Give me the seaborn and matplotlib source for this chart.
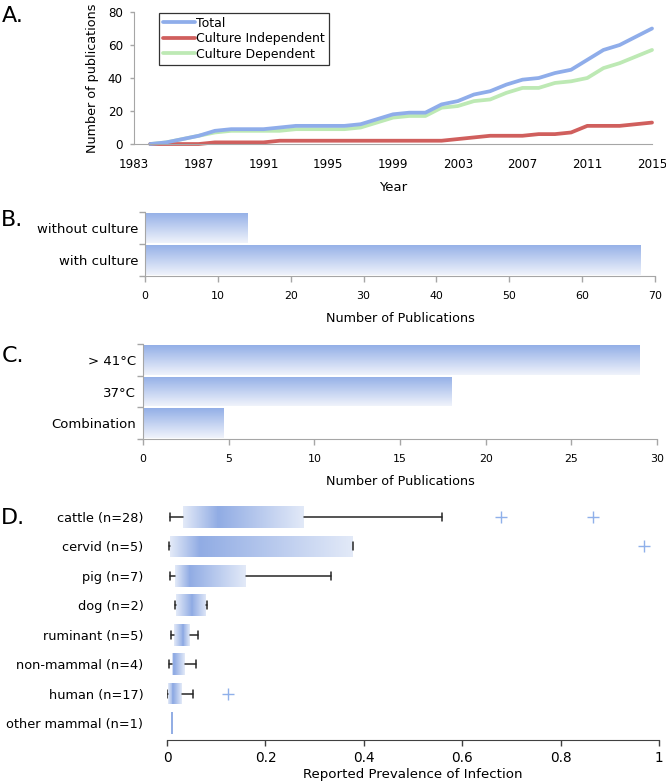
import matplotlib
matplotlib.use('Agg')
import matplotlib.pyplot as plt
from matplotlib.colors import LinearSegmentedColormap
from matplotlib.lines import Line2D
from matplotlib.ticker import FuncFormatter
import numpy as np
import pandas as pd
import seaborn as sns

# A. cumulative number of publications per year
years = list(range(1984, 2016))
total = [0, 1, 3, 5, 8, 9, 9, 9, 10, 11, 11, 11, 11, 12, 15, 18,
         19, 19, 24, 26, 30, 32, 36, 39, 40, 43, 45, 51, 57, 60, 65, 70]
independent = [0, 0, 0, 0, 1, 1, 1, 1, 2, 2, 2, 2, 2, 2, 2, 2,
               2, 2, 2, 3, 4, 5, 5, 5, 6, 6, 7, 11, 11, 11, 12, 13]
dependent = [0, 1, 3, 5, 7, 8, 8, 8, 8, 9, 9, 9, 9, 10, 13, 16,
             17, 17, 22, 23, 26, 27, 31, 34, 34, 37, 38, 40, 46, 49, 53, 57]

# B. culture
culture_labels = ['without culture', 'with culture']
culture_counts = [14, 68]

# C. incubation temperature
temp_labels = ['> 41°C', '37°C', 'Combination']
temp_counts = [29, 18, 4.7]

# D. reported prevalence by host
hosts = ['cattle (n=28)', 'cervid (n=5)', 'pig (n=7)', 'dog (n=2)',
         'ruminant (n=5)', 'non-mammal (n=4)', 'human (n=17)', 'other mammal (n=1)']
prev_min = [0.007, 0.004, 0.006, 0.016, 0.008, 0.004, 0.000, 0.011]
prev_q1 = [0.032, 0.006, 0.016, 0.018, 0.014, 0.010, 0.002, 0.011]
prev_med = [0.103, 0.066, 0.046, 0.050, 0.032, 0.015, 0.013, 0.011]
prev_q3 = [0.278, 0.378, 0.160, 0.080, 0.046, 0.036, 0.030, 0.011]
prev_max = [0.559, 0.378, 0.334, 0.081, 0.063, 0.058, 0.053, 0.011]
prev_out = [[0.678, 0.866], [0.968], [], [], [], [], [0.123], []]

sns.set_style('ticks')
plt.rcParams['font.family'] = ['DejaVu Sans']
plt.rcParams['text.color'] = 'black'
plt.rcParams['axes.labelcolor'] = 'black'
plt.rcParams['xtick.labelcolor'] = 'black'
plt.rcParams['ytick.labelcolor'] = 'black'

gray = '#a6a6a6'
bar_cmap = LinearSegmentedColormap.from_list('bar', ['#93afe7', '#f0f3fb'])
box_cmap = LinearSegmentedColormap.from_list('box', ['#e3eaf8', '#91ace4'])


def gradient_bars(ax, n):
    # replace flat bar colour by a top-to-bottom gradient
    vals = np.linspace(0, 1, 128)[:, None]
    for p in ax.patches:
        x0, y0, w, h = p.get_x(), p.get_y(), p.get_width(), p.get_height()
        p.set_facecolor('none')
        p.set_edgecolor('none')
        im = ax.imshow(vals, cmap=bar_cmap, vmin=0, vmax=1, aspect='auto',
                       extent=(x0, x0 + w, y0 + h, y0), origin='upper',
                       interpolation='bilinear', zorder=2)
        im.set_clip_path(p)
    ax.set_ylim(n - 0.5, -0.5)


def style_bar_axis(ax, n, xmax, step):
    sns.despine(ax=ax)
    for s in ['left', 'bottom']:
        ax.spines[s].set_color(gray)
    ax.set_xlim(0, xmax)
    ax.set_xticks(np.arange(0, xmax + 1, step))
    ax.set_yticks(np.arange(-0.5, n, 1), minor=True)
    ax.tick_params(axis='y', which='major', length=0, labelsize=9.5, pad=5)
    ax.tick_params(axis='y', which='minor', length=4, color=gray, width=1)
    ax.tick_params(axis='x', length=4, color=gray, width=1, labelsize=7.9, pad=7)
    ax.set_ylabel('')


fig = plt.figure(figsize=(6.66, 7.84), dpi=100)
axA = fig.add_axes([0.2012, 0.8163, 0.7778, 0.1684])
axB = fig.add_axes([0.2177, 0.648, 0.7658, 0.0816])
axC = fig.add_axes([0.2147, 0.44, 0.7718, 0.1212])
axD = fig.add_axes([0.2508, 0.0561, 0.7392, 0.3032])

# ---- A
n = len(years)
df_a = pd.DataFrame({
    'Year': years * 3,
    'count': total + independent + dependent,
    'series': ['Total'] * n + ['Culture Independent'] * n + ['Culture Dependent'] * n,
})
line_colors = {'Total': '#8fadea', 'Culture Independent': '#d05f5d',
               'Culture Dependent': '#bde9b4'}
sns.lineplot(data=df_a, x='Year', y='count', hue='series',
             hue_order=['Culture Dependent', 'Culture Independent', 'Total'],
             palette=line_colors, linewidth=2.7, ax=axA, legend=False,
             solid_joinstyle='round', solid_capstyle='round')
for line in axA.lines:
    line.set_clip_on(False)
sns.despine(ax=axA)
for s in ['left', 'bottom']:
    axA.spines[s].set_color(gray)
axA.set_xlim(1983, 2015)
axA.set_ylim(0, 80)
axA.set_xticks(range(1983, 2016, 4))
axA.set_yticks(range(0, 81, 20))
axA.tick_params(axis='x', length=0, pad=10, labelsize=8.6)
axA.tick_params(axis='y', length=3, color=gray, width=1, pad=5, labelsize=8.6)
axA.set_xlabel('Year', fontsize=9.5, labelpad=7)
axA.set_ylabel('Number of publications', fontsize=9.2, labelpad=6)
handles = [Line2D([], [], color=line_colors[k], lw=2.7)
           for k in ['Total', 'Culture Independent', 'Culture Dependent']]
leg = axA.legend(handles, ['Total', 'Culture Independent', 'Culture Dependent'],
                 loc='upper left', bbox_to_anchor=(0.048, 0.992), borderaxespad=0,
                 fontsize=9, frameon=True, fancybox=False, edgecolor='black',
                 handlelength=2.6, handletextpad=0.1, labelspacing=0.2, borderpad=0.3)
leg.get_frame().set_linewidth(0.9)

# ---- B
sns.barplot(x=culture_counts, y=culture_labels, orient='h', width=0.94,
            color='#b0c4ee', ax=axB)
gradient_bars(axB, len(culture_labels))
style_bar_axis(axB, len(culture_labels), 70, 10)
axB.set_xlabel('Number of Publications', fontsize=9.2, labelpad=8)

# ---- C
sns.barplot(x=temp_counts, y=temp_labels, orient='h', width=0.94,
            color='#b0c4ee', ax=axC)
gradient_bars(axC, len(temp_labels))
style_bar_axis(axC, len(temp_labels), 30, 5)
axC.set_xlabel('Number of Publications', fontsize=9.2, labelpad=8)

# ---- D
stats = []
for h, mn, a, m, b, mx, out in zip(hosts, prev_min, prev_q1, prev_med, prev_q3,
                                  prev_max, prev_out):
    stats.append(dict(label=h, whislo=mn, q1=a, med=m, q3=b, whishi=mx, fliers=out))
caps = [0.27 if mx > mn else 0.0 for mn, mx in zip(prev_min, prev_max)]
bw = 0.74
res = axD.bxp(stats, positions=range(len(hosts)), widths=bw, capwidths=caps,
              orientation='horizontal', patch_artist=True, showfliers=True,
              boxprops=dict(facecolor='none', edgecolor='none', linewidth=0),
              medianprops=dict(color='#91ace4', linewidth=1.4),
              whiskerprops=dict(color='#262626', linewidth=1.1),
              capprops=dict(color='#262626', linewidth=1.1),
              flierprops=dict(marker='+', markeredgecolor='#8fb0ea',
                              markersize=8, markeredgewidth=1.0, linestyle='none'))
for i, patch in enumerate(res['boxes']):
    a, m, b = prev_q1[i], prev_med[i], prev_q3[i]
    if b <= a:
        continue
    xs = np.linspace(a, b, 256)
    t = np.where(xs <= m, (xs - a) / max(m - a, 1e-9), (b - xs) / max(b - m, 1e-9))
    t = np.clip(t, 0, 1)[None, :]
    im = axD.imshow(t, cmap=box_cmap, vmin=0, vmax=1, aspect='auto',
                    extent=(a, b, i + bw / 2, i - bw / 2), origin='upper',
                    interpolation='bilinear', zorder=1.5)
    im.set_clip_path(patch)
axD.set_xlim(0, 1)
axD.set_ylim(7.58, -0.5)
axD.set_yticks(range(len(hosts)))
axD.set_yticklabels(hosts)
axD.set_xticks(np.arange(0, 1.01, 0.2))
axD.xaxis.set_major_formatter(FuncFormatter(lambda v, p: f'{v:g}'))
for s in ['left', 'top', 'right']:
    axD.spines[s].set_visible(False)
axD.spines['bottom'].set_color('#404040')
axD.tick_params(axis='y', length=0, pad=17, labelsize=9.3)
axD.tick_params(axis='x', length=4, color='#404040', width=1, pad=4, labelsize=9.8)
axD.set_xlabel('Reported Prevalence of Infection', fontsize=9.6, labelpad=2)

# panel letters
for letter, yc in zip(['A.', 'B.', 'C.', 'D.'], [16, 220, 356, 518]):
    fig.text(0.002, 1 - yc / 784, letter, fontsize=16, ha='left', va='center')

fig.savefig('out.png', dpi=100)
